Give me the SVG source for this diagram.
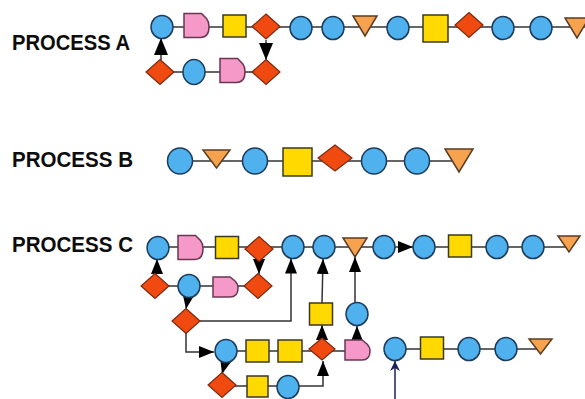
<svg xmlns="http://www.w3.org/2000/svg" xmlns:xlink="http://www.w3.org/1999/xlink" width="585" height="399" viewBox="0 0 585 399">
  <style>
    .lbl { font-family: "Liberation Sans", Arial, sans-serif; font-weight: bold; font-size: 22px; fill: #0d0d0d; }
    .ln { fill: none; stroke: #333333; stroke-width: 1.5; }
    .arr { fill: none; stroke: #333333; stroke-width: 1.5; marker-end: url(#ah); }
    .arr2 { fill: none; stroke: #333333; stroke-width: 1.5; marker-end: url(#ahL); }
    .nav { fill: none; stroke: #1a1f5c; stroke-width: 1.5; marker-end: url(#ahn); }
    .cir { fill: #4fb2ef; stroke: #1d3c5c; stroke-width: 1.5; }
    .sq { fill: #ffd900; stroke: #3a3a20; stroke-width: 1.5; }
    .dia { fill: #f04a10; stroke: #7a2a10; stroke-width: 1.2; }
    .tri { fill: #f7a24e; stroke: #5a3d22; stroke-width: 1.5; }
    .pnk { fill: #f59ac8; stroke: #6b3552; stroke-width: 1.5; }
  </style>
  <defs>
    <marker id="ah" markerUnits="userSpaceOnUse" markerWidth="15" markerHeight="12" refX="15" refY="6" orient="auto">
      <path d="M0,0 L15,6 L0,12 Z" fill="#000"/>
    </marker>
    <marker id="ahL" markerUnits="userSpaceOnUse" markerWidth="17" markerHeight="14" refX="17" refY="7" orient="auto">
      <path d="M0,0 L17,7 L0,14 Z" fill="#000"/>
    </marker>
    <marker id="ahn" markerUnits="userSpaceOnUse" markerWidth="10" markerHeight="10" refX="10" refY="5" orient="auto">
      <path d="M0,0 L10,5 L0,10 L3,5 Z" fill="#1a1f5c"/>
    </marker>
    <ellipse id="c" class="cir" cx="0" cy="0" rx="11" ry="11.5"/>
    <rect id="s" class="sq" x="-11.5" y="-11" width="23" height="22"/>
    <polygon id="d" class="dia" points="0,-12.5 14,0 0,12.5 -14,0"/>
    <polygon id="t" class="tri" points="-12,-10 12,-10 0,10"/>
    <path id="p" class="pnk" d="M-12.5,-12 H5 L10,-7 Q12.5,-4 12.5,1 Q12.5,12 4,12 H-12.5 Z"/>
  </defs>

  <rect width="585" height="399" fill="#ffffff"/>

  <text class="lbl" x="12" y="50" textLength="118" lengthAdjust="spacingAndGlyphs">PROCESS A</text>
  <text class="lbl" x="12" y="167" textLength="121" lengthAdjust="spacingAndGlyphs">PROCESS B</text>
  <text class="lbl" x="12" y="252" textLength="121" lengthAdjust="spacingAndGlyphs">PROCESS C</text>

  <g id="connectors">
    <!-- process A -->
    <line class="ln" x1="162" y1="27" x2="585" y2="27"/>
    <line class="ln" x1="160" y1="72" x2="266" y2="72"/>
    <line class="arr2" x1="161" y1="60" x2="161" y2="38"/>
    <line class="arr2" x1="266" y1="40" x2="266" y2="60"/>
    <!-- process B -->
    <line class="ln" x1="180" y1="161" x2="459" y2="161"/>
    <!-- process C -->
    <line class="ln" x1="158" y1="247" x2="384" y2="247"/>
    <line class="arr" x1="395" y1="247" x2="413" y2="247"/>
    <line class="ln" x1="424" y1="247" x2="569" y2="247"/>
    <line class="ln" x1="155" y1="286" x2="258" y2="286"/>
    <line class="arr" x1="157" y1="274" x2="157" y2="259"/>
    <line class="arr" x1="259" y1="262" x2="259" y2="274"/>
    <line class="arr" x1="188" y1="297" x2="186" y2="309"/>
    <polyline class="arr" points="200,321 291,321 291,258.5"/>
    <polyline class="arr" points="186,333 186,352 214,352"/>
    <line class="ln" x1="226" y1="351" x2="357" y2="351"/>
    <line class="arr" x1="322" y1="338" x2="322" y2="325"/>
    <line class="arr" x1="322" y1="303" x2="323" y2="259"/>
    <line class="arr" x1="357" y1="340" x2="357" y2="326"/>
    <line class="arr" x1="355" y1="303" x2="355" y2="257"/>
    <line class="arr" x1="225" y1="363" x2="222" y2="374"/>
    <line class="ln" x1="222" y1="386" x2="288" y2="386"/>
    <polyline class="arr" points="299,386 323,386 323,361"/>
    <line class="ln" x1="395" y1="349" x2="540" y2="349"/>
    <line class="nav" x1="395" y1="399" x2="395" y2="361"/>
  </g>

  <!-- process A, main row -->
  <g id="a1"><use href="#c" x="162" y="27"/></g>
  <g id="a2"><use href="#p" x="196.5" y="25.5"/></g>
  <g id="a3"><use href="#s" x="234.5" y="26"/></g>
  <g id="a4"><use href="#d" x="266" y="26.5"/></g>
  <g id="a5"><use href="#c" x="301" y="28"/></g>
  <g id="a6"><use href="#c" x="333" y="28"/></g>
  <g id="a7"><use href="#t" x="365" y="26"/></g>
  <g id="a8"><use href="#c" x="398" y="28"/></g>
  <g id="a9"><rect class="sq" x="423" y="15" width="25" height="27"/></g>
  <g id="a10"><use href="#d" x="469" y="25"/></g>
  <g id="a11"><use href="#c" x="503" y="28"/></g>
  <g id="a12"><use href="#c" x="541" y="28"/></g>
  <g id="a13"><use href="#t" x="577" y="28"/></g>
  <!-- process A, loop row -->
  <g id="a14"><use href="#d" x="160" y="72"/></g>
  <g id="a15"><ellipse class="cir" cx="194" cy="72" rx="11" ry="12.5"/></g>
  <g id="a16"><use href="#p" x="232.5" y="70.5"/></g>
  <g id="a17"><use href="#d" x="266" y="72"/></g>

  <!-- process B -->
  <g id="b1"><ellipse class="cir" cx="180" cy="161" rx="12.5" ry="13"/></g>
  <g id="b2"><polygon class="tri" points="203,150 230,150 216.5,168"/></g>
  <g id="b3"><ellipse class="cir" cx="255" cy="161" rx="12.5" ry="13"/></g>
  <g id="b4"><rect class="sq" x="283" y="148" width="29" height="28"/></g>
  <g id="b5"><polygon class="dia" points="335,145 352,158 335,171 318,158"/></g>
  <g id="b6"><ellipse class="cir" cx="374" cy="161" rx="12.5" ry="13"/></g>
  <g id="b7"><ellipse class="cir" cx="417" cy="161" rx="12.5" ry="13"/></g>
  <g id="b8"><polygon class="tri" points="445,149 473,149 459,172"/></g>

  <!-- process C, main row -->
  <g id="c1"><use href="#c" x="158" y="248"/></g>
  <g id="c2"><use href="#p" x="190.5" y="247.5"/></g>
  <g id="c3"><use href="#s" x="227" y="247.5"/></g>
  <g id="c4"><use href="#d" x="259" y="249"/></g>
  <g id="c5"><use href="#c" x="293" y="247"/></g>
  <g id="c6"><use href="#c" x="324" y="247"/></g>
  <g id="c7"><polygon class="tri" points="343,238 367,238 355,257"/></g>
  <g id="c8"><use href="#c" x="384" y="247"/></g>
  <g id="c9"><use href="#c" x="424" y="247"/></g>
  <g id="c10"><use href="#s" x="460" y="246"/></g>
  <g id="c11"><use href="#c" x="497" y="247"/></g>
  <g id="c12"><use href="#c" x="533" y="247"/></g>
  <g id="c13"><polygon class="tri" points="558,236 580,236 569,252"/></g>
  <!-- process C, loop row -->
  <g id="c14"><use href="#d" x="155" y="286"/></g>
  <g id="c15"><use href="#c" x="189" y="286"/></g>
  <g id="c16"><path class="pnk" d="M213,277 H230 L235,281 Q238,284 238,288 Q238,297 230,297 H213 Z"/></g>
  <g id="c17"><use href="#d" x="258" y="286"/></g>
  <!-- process C, branch -->
  <g id="c18"><use href="#d" x="186" y="321"/></g>
  <g id="c19"><use href="#c" x="226" y="351"/></g>
  <g id="c20"><use href="#s" x="257.5" y="351"/></g>
  <g id="c21"><rect class="sq" x="278" y="340" width="24" height="22"/></g>
  <g id="c22"><polygon class="dia" points="322,338 335,349 322,360 309,349"/></g>
  <g id="c23"><path class="pnk" d="M345,340 H362 L367,344 Q370,347 370,351 Q370,360 362,360 H345 Z"/></g>
  <g id="c24"><use href="#s" x="321" y="314"/></g>
  <g id="c25"><use href="#c" x="357" y="314"/></g>
  <g id="c26"><use href="#d" x="222" y="385"/></g>
  <g id="c27"><rect class="sq" x="247" y="376" width="21" height="21"/></g>
  <g id="c28"><use href="#c" x="288" y="387"/></g>
  <!-- process C, detached row -->
  <g id="c29"><use href="#c" x="395" y="349"/></g>
  <g id="c30"><use href="#s" x="432" y="348"/></g>
  <g id="c31"><use href="#c" x="469" y="349"/></g>
  <g id="c32"><use href="#c" x="506" y="349"/></g>
  <g id="c33"><polygon class="tri" points="529,339 552,339 540.5,354"/></g>
</svg>
